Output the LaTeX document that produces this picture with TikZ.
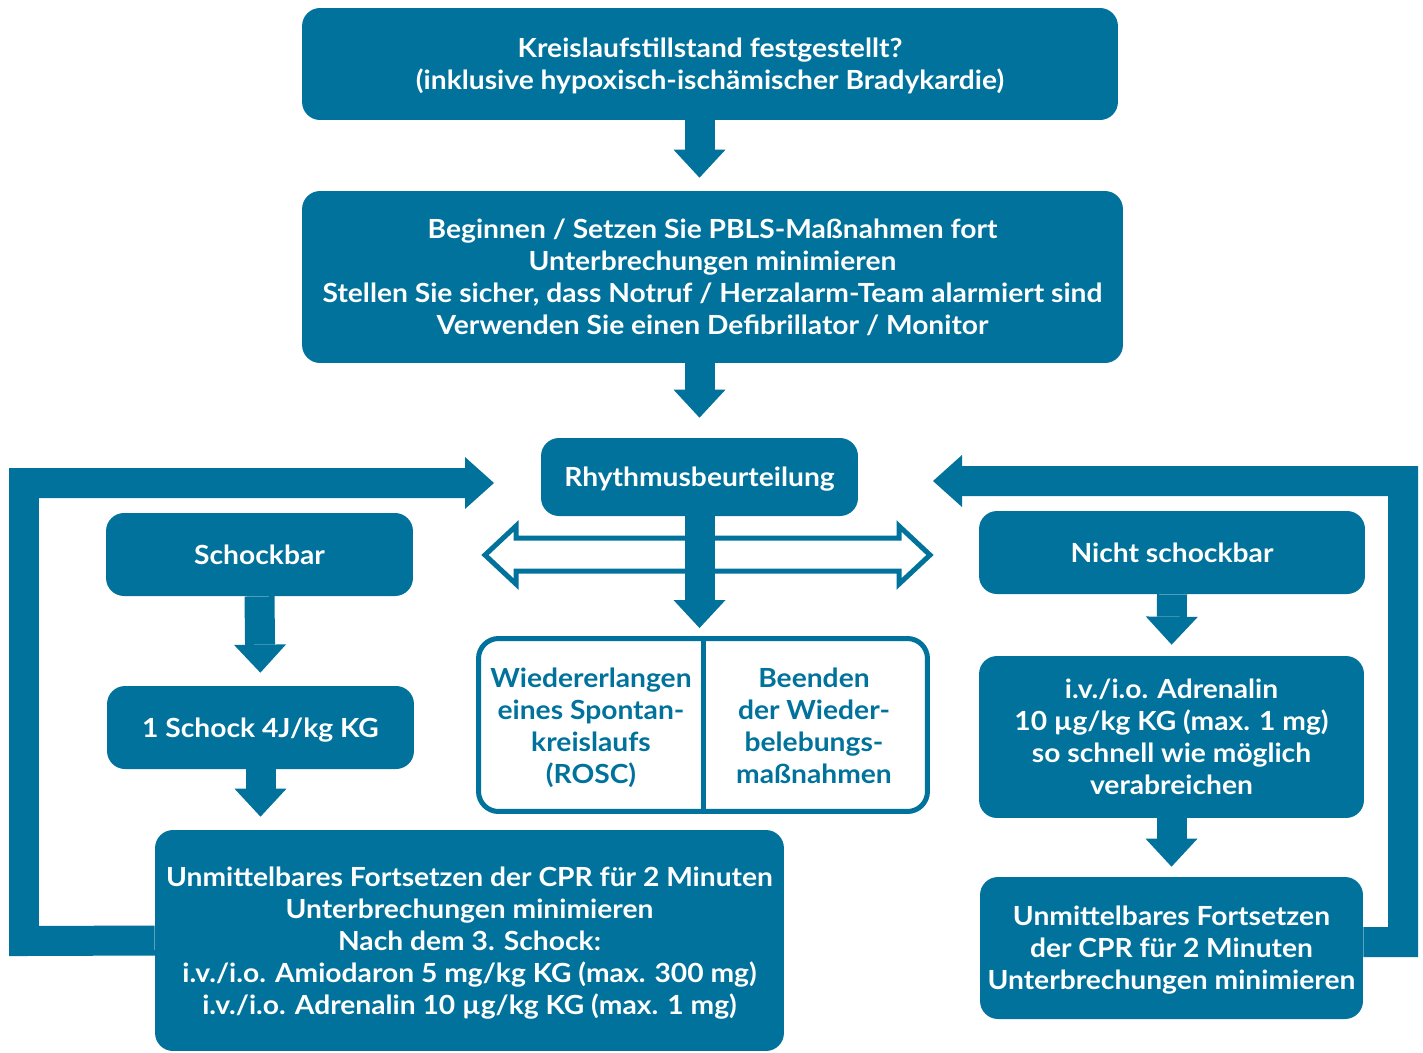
\documentclass[tikz,border=0pt]{standalone}
\usepackage{fontspec}
\setmainfont[FakeStretch=1.07]{Lato}
\usetikzlibrary{arrows.meta,calc}
\definecolor{pblsblue}{RGB}{0,114,155}
\tikzset{
	box/.style={fill=pblsblue, rounded corners=0.36cm, text=white, align=center, inner sep=0pt,
		text depth=-4pt, font=\fontsize{15}{18.2}\selectfont\bfseries},
	splitbox/.style={draw=pblsblue, line width=0.1cm, rounded corners=0.4cm, inner sep=0pt},
	splittext/.style={text=pblsblue, align=center, inner sep=0pt, text depth=-2pt,
		font=\fontsize{15}{18.2}\selectfont\bfseries},
	blockarrow/.style={pblsblue, line width=0.6cm, shorten >=0.26cm,
		-{Triangle[length=0.56cm,width=1.04cm,line width=0pt]}},
	loopband/.style={pblsblue, line width=0.6cm,
		-{Triangle[length=0.58cm,width=1.04cm,line width=0pt]}},
}

\begin{document}
\begin{tikzpicture}[x=0.02cm, y=-0.02cm]
			%%%%% START %%%%%
			\useasboundingbox (0,0) rectangle (1423,1052);
			
			\node[box, minimum width=16.32cm, minimum height=2.24cm] (check) at (710,64)
				{Kreislaufstillstand festgestellt?\\(inklusive hypoxisch-ischämischer Bradykardie)};
			\node[box, minimum width=16.42cm, minimum height=3.44cm] (pbls) at (712.5,277)
				{Beginnen / Setzen Sie PBLS-Maßnahmen fort\\Unterbrechungen minimieren\\
				Stellen Sie sicher, dass Notruf / Herzalarm-Team alarmiert sind\\
				Verwenden Sie einen Defibrillator / Monitor};
			\node[box, minimum width=6.34cm, minimum height=1.56cm] (rhythm) at (699.5,477) {Rhythmusbeurteilung};
			
			\node[box, minimum width=6.14cm, minimum height=1.66cm] (shock) at (259.5,554.5) {Schockbar};
			\node[box, minimum width=6.14cm, minimum height=1.66cm] (oneshock) at (260.5,727.5) {1 Schock 4J/kg KG};
			\node[box, minimum width=12.58cm, minimum height=4.42cm] (cprl) at (469.5,940.5)
				{Unmittelbares Fortsetzen der CPR für 2 Minuten\\Unterbrechungen minimieren\\
				Nach dem 3. Schock:\\i.v./i.o. Amiodaron 5 mg/kg KG (max. 300 mg)\\
				i.v./i.o. Adrenalin 10 µg/kg KG (max. 1 mg)};
			
			\node[box, minimum width=7.72cm, minimum height=1.66cm] (noshock) at (1172,552.5) {Nicht schockbar};
			\node[box, minimum width=7.7cm, minimum height=3.24cm] (adren) at (1171.5,737)
				{i.v./i.o. Adrenalin\\10 µg/kg KG (max. 1 mg)\\so schnell wie möglich\\verabreichen};
			\node[box, minimum width=7.66cm, minimum height=2.84cm] (cprr) at (1171.5,948)
				{Unmittelbares Fortsetzen\\der CPR für 2 Minuten\\Unterbrechungen minimieren};
			
			\node[splitbox, minimum width=8.98cm, minimum height=3.46cm] (split) at (703,725) {};
			\draw[pblsblue, line width=0.1cm] (split.north) -- (split.south);
			\node[splittext] (rosc) at (591,726) {Wiedererlangen\\eines Spontan-\\kreislaufs\\(ROSC)};
			\node[splittext] (stop) at (814,726) {Beenden\\der Wieder-\\belebungs-\\maßnahmen};
			
			% loops back to the rhythm check
			\coordinate (lin) at (494,483);
			\coordinate (rin) at (933,481);
			\draw[loopband] (cprl.west) -- (24,941) -- (24,483) -- (lin);
			\draw[loopband] ([yshift=0.12cm]cprr.east) -- (1403,942) -- (1403,481) -- (rin);
			
			% open double arrow
			\draw[pblsblue, line width=0.1cm] (485,555) -- (516,526) -- (516,538) -- (899,538) -- (899,526)
				-- (930,555) -- (899,584) -- (899,571) -- (516,571) -- (516,584) -- cycle;
			
			\draw[blockarrow] (check.south -| rhythm) -- (pbls.north -| rhythm);
			\draw[blockarrow, shorten >=0.4cm] (pbls.south -| rhythm) -- (rhythm.north);
			\draw[blockarrow, shorten >=0.16cm] (rhythm.south) -- (split.north -| rhythm);
			\draw[blockarrow] (shock.south) -- (oneshock.north);
			\draw[blockarrow] (oneshock.south) -- (cprl.north -| oneshock);
			\draw[blockarrow, shorten >=0.22cm] (noshock.south) -- (adren.north);
			\draw[blockarrow, shorten >=0.2cm] (adren.south) -- (cprr.north);
			
			%%%%% END %%%%%
		\end{tikzpicture}
\end{document}
